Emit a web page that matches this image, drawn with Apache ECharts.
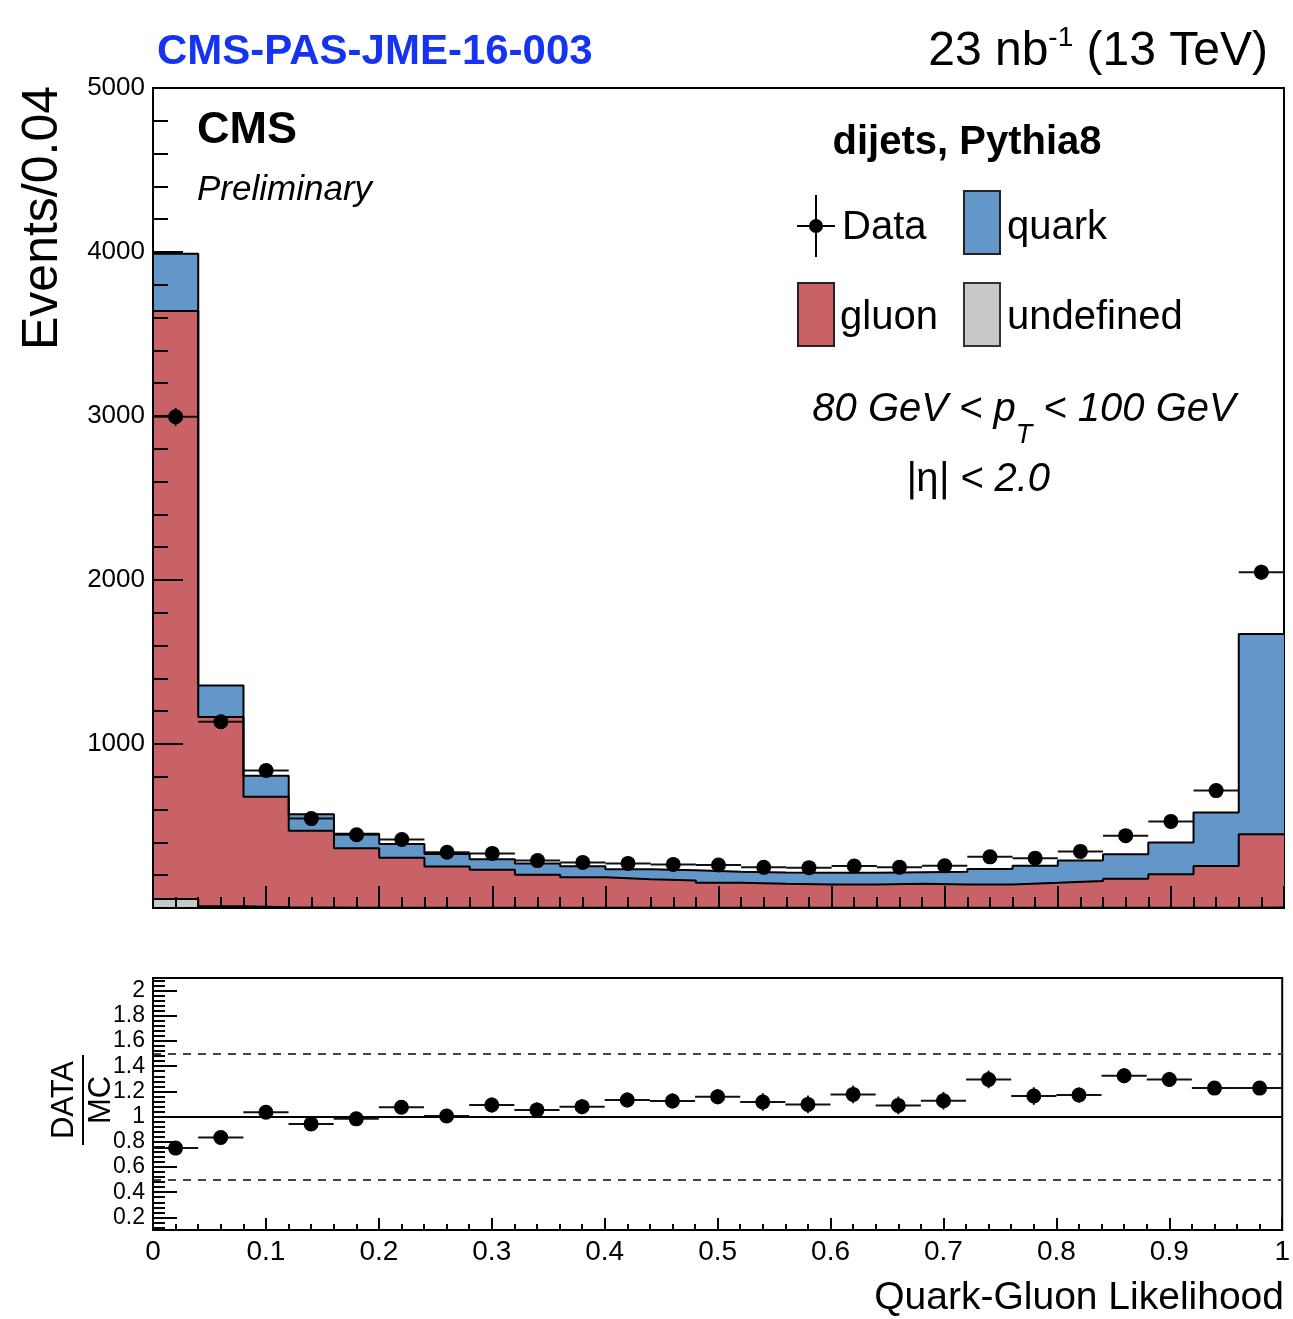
<!DOCTYPE html>
<html>
<head>
<meta charset="utf-8">
<script src="https://cdn.jsdelivr.net/npm/echarts@6/dist/echarts.min.js"></script>
<style>
html, body { margin: 0; padding: 0; background: #fff; }
#chart { width: 1293px; height: 1319px; }
</style>
</head>
<body>
<div id="chart"></div>
<script>
// 25 bins of width 0.04 on the quark-gluon likelihood
const binWidth = 0.04
const nBins = 25

// MC stack components (events per bin)
const undefinedVals = [55, 10, 4, 3, 2, 2, 2, 2, 2, 2, 1, 1, 1, 1, 1, 1, 1, 1, 1, 1, 1, 1, 1, 2, 3]
const gluonVals = [3585, 1155, 674, 468, 362, 304, 251, 231, 201, 186, 175, 167, 153, 147, 142, 143, 147, 143, 143, 153, 164, 178, 205, 254, 447]
const quarkVals = [350, 191, 128, 101, 88, 85, 77, 65, 69, 67, 60, 62, 67, 69, 72, 71, 70, 77, 94, 104, 125, 148, 193, 326, 1221]

// data points
const dataVals = [2995, 1136, 838, 545, 447, 418, 340, 333, 289, 278, 272, 266, 262, 248, 246, 256, 249, 257, 312, 304, 345, 441, 528, 716, 2048]
const dataErr = [55, 34, 29, 23, 21, 20, 18, 18, 17, 17, 16, 16, 16, 16, 16, 16, 16, 16, 18, 17, 19, 21, 23, 27, 45]

// ratio panel
const ratioVals = [0.75, 0.834, 1.034, 0.942, 0.982, 1.074, 1.005, 1.092, 1.053, 1.079, 1.132, 1.124, 1.158, 1.116, 1.097, 1.176, 1.089, 1.126, 1.295, 1.163, 1.171, 1.324, 1.295, 1.226, 1.226]
const ratioErr = [0.02, 0.03, 0.04, 0.04, 0.05, 0.05, 0.05, 0.06, 0.06, 0.06, 0.06, 0.06, 0.06, 0.07, 0.07, 0.07, 0.07, 0.07, 0.07, 0.07, 0.06, 0.06, 0.06, 0.05, 0.03]

// tick labels of the ratio axis
const ratioLabels = [0.2, 0.4, 0.6, 0.8, 1, 1.2, 1.4, 1.6, 1.8, 2]
const ratioMinorTicks = []
for (let v = 0.12; v < 2.1; v += 0.04) ratioMinorTicks.push(+v.toFixed(2))

const colors = {
  quark: '#6497c9',
  gluon: '#c96266',
  undef: '#c8c8c8',
}
const FONT = '"Liberation Sans", Arial, Helvetica, sans-serif'

const binLow = []
for (let i = 0; i < nBins; i++) binLow.push(+(i * binWidth).toFixed(2))
const binCenter = binLow.map(x => +(x + binWidth / 2).toFixed(2))

// cumulative stack tops: undefined, + gluon, + quark
const undefTop = undefinedVals.slice()
const gluonTop = gluonVals.map((v, i) => v + undefTop[i])
const quarkTop = quarkVals.map((v, i) => v + gluonTop[i])

const stepPoints = tops => {
  const pts = tops.map((v, i) => [binLow[i], v])
  pts.push([1, tops[tops.length - 1]])
  return pts
}

const errorBarItem = (params, api) => {
  const x = api.value(0)
  const y = api.value(1)
  const e = api.value(2)
  const l = api.coord([x - binWidth / 2, y])
  const r = api.coord([x + binWidth / 2, y])
  const t = api.coord([x, y + e])
  const b = api.coord([x, y - e])
  const style = { stroke: '#111', lineWidth: 2 }
  return {
    type: 'group',
    children: [
      { type: 'line', shape: { x1: l[0], y1: l[1], x2: r[0], y2: r[1] }, style },
      { type: 'line', shape: { x1: t[0], y1: t[1], x2: b[0], y2: b[1] }, style },
    ],
  }
}

const stackSeries = (name, tops, color) => ({
  name,
  type: 'line',
  xAxisIndex: 0,
  yAxisIndex: 0,
  step: 'end',
  symbol: 'none',
  data: stepPoints(tops),
  lineStyle: { color: '#000', width: 2 },
  areaStyle: { color, opacity: 1 },
  silent: true,
})

const txt = (x, y, text, size, extra) => ({
  type: 'text', x, y,
  style: Object.assign({
    text, fontSize: size, fontFamily: FONT, fill: '#000',
    textAlign: 'left', textVerticalAlign: 'middle', align: 'left', verticalAlign: 'middle',
  }, extra || {}),
})

const chart = echarts.init(document.getElementById('chart'), null, { renderer: 'canvas' })

const option = {
  animation: false,
  backgroundColor: '#fff',
  textStyle: { fontFamily: FONT, color: '#000' },
  grid: [
    { left: 153, top: 88, width: 1131, height: 820, show: true, borderColor: '#000', borderWidth: 2, backgroundColor: 'transparent' },
    { left: 153, top: 978, width: 1131, height: 252, show: true, borderColor: '#000', borderWidth: 2, backgroundColor: 'transparent' },
  ],
  xAxis: [
    {
      gridIndex: 0, type: 'value', min: 0, max: 1, interval: 0.1, z: 5,
      axisLine: { lineStyle: { color: '#000', width: 2 } },
      axisTick: { inside: true, length: 22, lineStyle: { color: '#000', width: 2 } },
      minorTick: { show: true, splitNumber: 5, length: 11, lineStyle: { color: '#000', width: 2 } },
      axisLabel: { show: false },
      splitLine: { show: false },
    },
    {
      gridIndex: 1, type: 'value', min: 0, max: 1, interval: 0.1, z: 5,
      axisLine: { lineStyle: { color: '#000', width: 2 } },
      axisTick: { inside: true, length: 12, lineStyle: { color: '#000', width: 2 } },
      minorTick: { show: true, splitNumber: 5, length: 6, lineStyle: { color: '#000', width: 2 } },
      axisLabel: { fontSize: 28, color: '#000', margin: 8, formatter: v => String(+v.toFixed(1)) },
      splitLine: { show: false },
    },
  ],
  yAxis: [
    {
      gridIndex: 0, type: 'value', min: 0, max: 5000, interval: 1000, z: 5,
      axisLine: { lineStyle: { color: '#000', width: 2 } },
      axisTick: { inside: true, length: 30, lineStyle: { color: '#000', width: 2 } },
      minorTick: { show: true, splitNumber: 5, length: 15, lineStyle: { color: '#000', width: 2 } },
      axisLabel: { fontSize: 26, color: '#000', margin: 8, formatter: v => (v === 0 ? '' : String(v)) },
      splitLine: { show: false },
    },
    {
      gridIndex: 1, type: 'value', position: 'left', min: 0.1, max: 2.1, z: 5,
      axisLine: { lineStyle: { color: '#000', width: 2 } },
      axisTick: { inside: true, length: 24, customValues: ratioLabels, lineStyle: { color: '#000', width: 2 } },
      axisLabel: { fontSize: 23, color: '#000', margin: 8, customValues: ratioLabels, formatter: v => String(+(+v).toFixed(1)) },
      splitLine: { show: false },
    },
    {
      gridIndex: 1, type: 'value', position: 'left', offset: 0, min: 0.1, max: 2.1, z: 5,
      axisLine: { show: false },
      axisTick: { inside: true, length: 12, customValues: ratioMinorTicks, lineStyle: { color: '#000', width: 2 } },
      axisLabel: { show: false },
      splitLine: { show: false },
    },
  ],
  series: [
    stackSeries('quark', quarkTop, colors.quark),
    stackSeries('gluon', gluonTop, colors.gluon),
    stackSeries('undefined', undefTop, colors.undef),
    {
      name: 'data errors',
      type: 'custom',
      xAxisIndex: 0,
      yAxisIndex: 0,
      renderItem: errorBarItem,
      data: binCenter.map((x, i) => [x, dataVals[i], dataErr[i]]),
      z: 3,
      silent: true,
    },
    {
      name: 'Data',
      type: 'scatter',
      xAxisIndex: 0,
      yAxisIndex: 0,
      symbol: 'circle',
      symbolSize: 15,
      itemStyle: { color: '#000', opacity: 1 },
      data: binCenter.map((x, i) => [x, dataVals[i]]),
      z: 4,
    },
    {
      name: 'ratio errors',
      type: 'custom',
      xAxisIndex: 1,
      yAxisIndex: 1,
      renderItem: errorBarItem,
      data: binCenter.map((x, i) => [x, ratioVals[i], ratioErr[i]]),
      z: 3,
      silent: true,
    },
    {
      name: 'ratio',
      type: 'scatter',
      xAxisIndex: 1,
      yAxisIndex: 1,
      symbol: 'circle',
      symbolSize: 15,
      itemStyle: { color: '#000', opacity: 1 },
      data: binCenter.map((x, i) => [x, ratioVals[i]]),
      z: 4,
      markLine: {
        silent: true,
        symbol: ['none', 'none'],
        label: { show: false },
        data: [
          { yAxis: 1, lineStyle: { color: '#000', width: 2, type: 'solid' } },
          { yAxis: 0.5, lineStyle: { color: '#444', width: 2, type: [8, 7] } },
          { yAxis: 1.5, lineStyle: { color: '#444', width: 2, type: [8, 7] } },
        ],
      },
    },
  ],
  graphic: [
    txt(157, 52, 'CMS-PAS-JME-16-003', 42, { fontWeight: 'bold', fill: '#1434f2' }),
    {
      type: 'text', x: 1268, y: 50,
      style: {
        text: '{m|23 nb}{sup|-1}{m| (13 TeV)}', fontSize: 48, fontFamily: FONT, fill: '#000',
        textAlign: 'right', textVerticalAlign: 'middle', align: 'right', verticalAlign: 'middle',
        rich: {
          m: { fontSize: 48, fontFamily: FONT, fill: '#000', verticalAlign: 'bottom' },
          sup: { fontSize: 28, fontFamily: FONT, fill: '#000', verticalAlign: 'top', padding: [0, 0, 24, 0] },
        },
      },
    },
    {
      type: 'text', x: 43, y: 218, rotation: Math.PI / 2,
      style: { text: 'Events/0.04', fontSize: 50, fontFamily: FONT, fill: '#000', textAlign: 'center', textVerticalAlign: 'middle', align: 'center', verticalAlign: 'middle' },
    },
    txt(197, 131, 'CMS', 45, { fontWeight: 'bold' }),
    txt(197, 190, 'Preliminary', 35, { fontStyle: 'italic' }),
    txt(967, 143, 'dijets, Pythia8', 40, { fontWeight: 'bold', textAlign: 'center', align: 'center' }),
    // legend
    { type: 'line', shape: { x1: 797, y1: 226, x2: 835, y2: 226 }, style: { stroke: '#000', lineWidth: 2 } },
    { type: 'line', shape: { x1: 816, y1: 195, x2: 816, y2: 257 }, style: { stroke: '#000', lineWidth: 2 } },
    { type: 'circle', shape: { cx: 816, cy: 226, r: 7 }, style: { fill: '#000' } },
    txt(842, 228, 'Data', 40),
    { type: 'rect', shape: { x: 964, y: 191, width: 36, height: 63 }, style: { fill: colors.quark, stroke: '#222', lineWidth: 2 } },
    txt(1007, 228, 'quark', 40),
    { type: 'rect', shape: { x: 798, y: 283, width: 36, height: 63 }, style: { fill: colors.gluon, stroke: '#222', lineWidth: 2 } },
    txt(840, 318, 'gluon', 40),
    { type: 'rect', shape: { x: 964, y: 283, width: 36, height: 63 }, style: { fill: colors.undef, stroke: '#333', lineWidth: 2 } },
    txt(1007, 318, 'undefined', 40),
    {
      type: 'text', x: 1024, y: 419,
      style: {
        text: '{m|80 GeV < p}{sub|T}{m| < 100 GeV}', fontSize: 40, fontStyle: 'italic', fontFamily: FONT, fill: '#000',
        textAlign: 'center', textVerticalAlign: 'middle', align: 'center', verticalAlign: 'middle',
        rich: {
          m: { fontSize: 40, fontStyle: 'italic', fontFamily: FONT, fill: '#000', verticalAlign: 'top' },
          sub: { fontSize: 27, fontStyle: 'italic', fontFamily: FONT, fill: '#000', verticalAlign: 'bottom', padding: [32, 0, 0, 0] },
        },
      },
    },
    {
      type: 'text', x: 978, y: 480,
      style: {
        text: '|{n|η}| < 2.0', fontSize: 40, fontStyle: 'italic', fontFamily: FONT, fill: '#000',
        textAlign: 'center', textVerticalAlign: 'middle', align: 'center', verticalAlign: 'middle',
        rich: { n: { fontSize: 40, fontStyle: 'normal', fontFamily: FONT, fill: '#000' } },
      },
    },
    // DATA / MC fraction on the ratio axis
    {
      type: 'group', x: 83, y: 1100, rotation: Math.PI / 2,
      children: [
        { type: 'text', x: 0, y: -3, style: { text: 'DATA', fontSize: 31, fontFamily: FONT, fill: '#000', textAlign: 'center', textVerticalAlign: 'bottom', align: 'center', verticalAlign: 'bottom' } },
        { type: 'line', shape: { x1: -45, y1: 0, x2: 45, y2: 0 }, style: { stroke: '#000', lineWidth: 2 } },
        { type: 'text', x: 0, y: 3, style: { text: 'MC', fontSize: 31, fontFamily: FONT, fill: '#000', textAlign: 'center', textVerticalAlign: 'top', align: 'center', verticalAlign: 'top' } },
      ],
    },
    txt(1284, 1298, 'Quark-Gluon Likelihood', 39, { textAlign: 'right', align: 'right' }),
  ],
}

chart.setOption(option)
window.addEventListener('resize', () => chart.resize())
</script>
</body>
</html>
